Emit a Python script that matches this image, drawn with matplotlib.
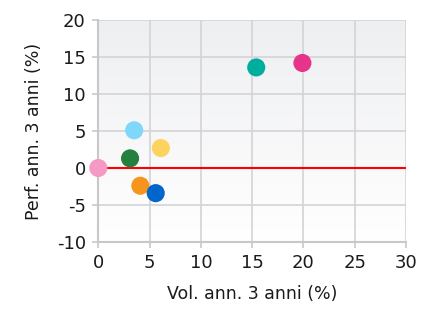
import numpy as np
import matplotlib
matplotlib.use("Agg")
import matplotlib.pyplot as plt

vol = [0.0, 3.1, 3.5, 4.1, 5.6, 6.1, 15.4, 19.9]
perf = [0.0, 1.3, 5.1, -2.4, -3.4, 2.7, 13.6, 14.2]
colors = ["#f59ac3", "#24803e", "#7fd8fb", "#f7941d", "#0066cc", "#fdd35f", "#00ae9d", "#e8338a"]
x_ticks = [0, 5, 10, 15, 20, 25, 30]
y_ticks = [-10, -5, 0, 5, 10, 15, 20]

plt.rcParams["axes.unicode_minus"] = False

fig = plt.figure(figsize=(4.31, 3.09), dpi=100)
ax = fig.add_axes([0.228, 0.217, 0.714, 0.718])

# sfondo sfumato
grad = np.linspace(0, 1, 256).reshape(-1, 1)
ax.imshow(grad, extent=[0, 30, -10, 20], aspect="auto", origin="lower",
          cmap=matplotlib.colors.LinearSegmentedColormap.from_list("bg", ["#ffffff", "#eeeff1"]),
          zorder=0)

ax.set_xlim(0, 30)
ax.set_ylim(-10, 20)
ax.set_xticks(x_ticks)
ax.set_yticks(y_ticks)
ax.grid(True, color="#d4d4d6", linewidth=1.2, zorder=1)
ax.axhline(0, color="#ff0000", linewidth=1.5, zorder=2)
ax.scatter(vol, perf, s=170, c=colors, zorder=3, clip_on=False, linewidths=0)

for s in ["top", "right"]:
    ax.spines[s].set_visible(False)
for s in ["left", "bottom"]:
    ax.spines[s].set_color("#c8c8ca")
    ax.spines[s].set_linewidth(1.5)
ax.tick_params(colors="#c8c8ca", labelcolor="#1a1a1a", labelsize=13, length=4, width=1.2, pad=5)

ax.set_xlabel("Vol. ann. 3 anni (%)", fontsize=12.5, color="#1a1a1a", labelpad=9)
ax.set_ylabel("Perf. ann. 3 anni (%)", fontsize=12.5, color="#1a1a1a", labelpad=10)

fig.savefig("out.png", dpi=100)
